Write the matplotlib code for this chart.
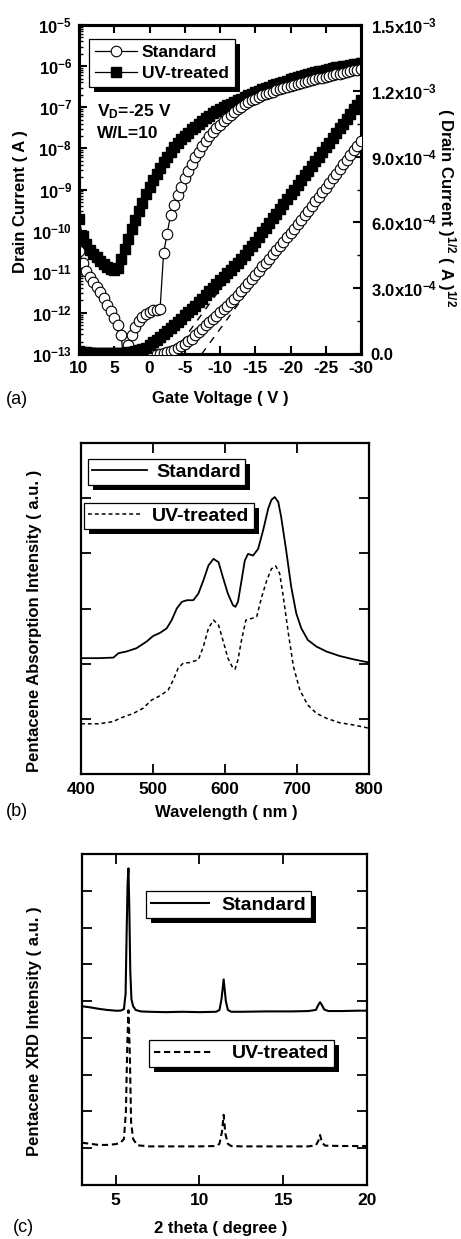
import numpy as np
import matplotlib
matplotlib.use('Agg')
import matplotlib.pyplot as plt
from matplotlib.ticker import MultipleLocator, FixedLocator, LogLocator, NullFormatter, FixedFormatter, LogFormatterMathtext
from matplotlib.patches import Rectangle
from matplotlib.transforms import IdentityTransform

plt.rcParams['font.family'] = ['Liberation Sans', 'DejaVu Sans']
plt.rcParams['font.weight'] = 'bold'
plt.rcParams['axes.labelweight'] = 'bold'
plt.rcParams['axes.unicode_minus'] = False
plt.rcParams['mathtext.fontset'] = 'custom'
plt.rcParams['mathtext.rm'] = 'Liberation Sans:bold'
plt.rcParams['mathtext.bf'] = 'Liberation Sans:bold'
plt.rcParams['mathtext.it'] = 'Liberation Sans:bold'

# ---------------- Panel (a) data: transfer curves ----------------
gate_voltage = np.arange(10, -30.5, -0.5)   # sweep 10 V -> -30 V, 0.5 V step (81 points)

# log10 of drain current (A)
std_log_id = [-10.50, -10.78, -10.98, -11.12, -11.24, -11.38, -11.50, -11.65, -11.80, -11.96,
              -12.13, -12.30, -12.55, -13.60, -12.78, -12.54, -12.34, -12.20, -12.10, -12.03,
              -11.98, -11.94, -11.92, -11.90, -10.55, -10.07, -9.62, -9.38, -9.14, -8.93,
              -8.73, -8.54, -8.37, -8.22, -8.08, -7.95, -7.83, -7.71, -7.60, -7.50,
              -7.42, -7.34, -7.26, -7.19, -7.12, -7.05, -6.99, -6.93, -6.87, -6.83,
              -6.79, -6.75, -6.71, -6.68, -6.65, -6.62, -6.59, -6.56, -6.53, -6.50,
              -6.48, -6.45, -6.43, -6.41, -6.39, -6.36, -6.34, -6.32, -6.30, -6.28,
              -6.26, -6.24, -6.22, -6.20, -6.18, -6.16, -6.14, -6.12, -6.10, -6.09,
              -6.07]
uv_log_id = [-9.72, -10.12, -10.32, -10.46, -10.56, -10.65, -10.74, -10.82, -10.88, -10.93,
             -10.96, -10.92, -10.70, -10.45, -10.21, -9.97, -9.74, -9.52, -9.32, -9.12,
             -8.93, -8.77, -8.62, -8.48, -8.33, -8.20, -8.08, -7.97, -7.87, -7.78,
             -7.70, -7.62, -7.54, -7.47, -7.40, -7.33, -7.27, -7.21, -7.15, -7.10,
             -7.05, -7.00, -6.95, -6.91, -6.87, -6.83, -6.79, -6.75, -6.71, -6.68,
             -6.64, -6.60, -6.56, -6.53, -6.50, -6.47, -6.44, -6.41, -6.38, -6.35,
             -6.32, -6.29, -6.27, -6.24, -6.22, -6.19, -6.17, -6.15, -6.13, -6.11,
             -6.09, -6.07, -6.05, -6.03, -6.02, -6.00, -5.99, -5.97, -5.96, -5.94,
             -5.93]

# (drain current)^1/2 in units of 1e-4 A^1/2
std_sqrt_id = [0.055, 0.040, 0.032, 0.028, 0.024, 0.020, 0.018, 0.015, 0.013, 0.010,
               0.009, 0.007, 0.005, 0.002, 0.004, 0.005, 0.007, 0.008, 0.009, 0.010,
               0.010, 0.011, 0.011, 0.011, 0.052, 0.090, 0.15, 0.20, 0.27, 0.35,
               0.46, 0.57, 0.70, 0.85, 1.00, 1.15, 1.30, 1.45, 1.60, 1.75,
               1.90, 2.05, 2.20, 2.36, 2.52, 2.69, 2.86, 3.04, 3.22, 3.41,
               3.60, 3.80, 4.00, 4.17, 4.35, 4.54, 4.73, 4.92, 5.12, 5.32,
               5.52, 5.72, 5.93, 6.13, 6.34, 6.54, 6.75, 6.96, 7.17, 7.38,
               7.59, 7.80, 8.01, 8.22, 8.43, 8.64, 8.85, 9.06, 9.28, 9.49,
               9.70]
uv_sqrt_id = [0.14, 0.09, 0.07, 0.06, 0.05, 0.05, 0.04, 0.04, 0.04, 0.03,
              0.03, 0.04, 0.05, 0.06, 0.08, 0.10, 0.13, 0.17, 0.22, 0.29,
              0.40, 0.53, 0.66, 0.79, 0.92, 1.05, 1.19, 1.33, 1.47, 1.61,
              1.76, 1.91, 2.06, 2.21, 2.37, 2.53, 2.69, 2.85, 3.02, 3.19,
              3.36, 3.52, 3.68, 3.84, 4.00, 4.17, 4.35, 4.53, 4.72, 4.92,
              5.12, 5.33, 5.54, 5.75, 5.97, 6.18, 6.40, 6.62, 6.85, 7.06,
              7.28, 7.49, 7.71, 7.92, 8.14, 8.35, 8.57, 8.78, 9.00, 9.21,
              9.43, 9.64, 9.86, 10.07, 10.29, 10.50, 10.72, 10.93, 11.15, 11.36,
              11.58]

# linear fits of sqrt(Id) (extrapolated to threshold)
std_fit_v = [-7.4, -30.0]
std_fit_sqrt = [0.0, 9.9]
uv_fit_v = [-3.3, -30.0]
uv_fit_sqrt = [0.0, 11.75]

right_ticks = [0.0, 3.0e-4, 6.0e-4, 9.0e-4, 1.2e-3, 1.5e-3]
right_tick_labels = ['0.0', r'$\mathdefault{3.0x10^{-4}}$', r'$\mathdefault{6.0x10^{-4}}$',
                     r'$\mathdefault{9.0x10^{-4}}$', r'$\mathdefault{1.2x10^{-3}}$',
                     r'$\mathdefault{1.5x10^{-3}}$']

# ---------------- Panel (b) data: absorption ----------------
wl_std = [400, 425, 445, 452, 463, 477, 491, 500, 510, 519, 526, 533, 540, 547, 556,
          563, 570, 577, 584, 591, 597, 604, 611, 614.5, 618, 623, 627.5, 632, 639, 646,
          653, 660, 664.5, 669, 674, 678, 685, 692, 699, 706, 715, 727, 741, 759, 778, 800]
abs_std = [2.10, 2.10, 2.11, 2.19, 2.22, 2.28, 2.40, 2.50, 2.56, 2.64, 2.79, 3.00, 3.12, 3.15, 3.15,
           3.27, 3.51, 3.78, 3.90, 3.84, 3.57, 3.27, 3.06, 3.03, 3.12, 3.51, 3.87, 3.99, 3.96, 4.08,
           4.42, 4.81, 4.97, 5.02, 4.93, 4.66, 4.05, 3.39, 2.91, 2.64, 2.43, 2.31, 2.22, 2.14, 2.08, 2.02]
wl_uv = [400, 425, 445, 454, 473, 486, 498, 510, 521, 528, 535, 542, 551, 563, 570,
         577, 584, 591, 597, 604, 611, 614, 618, 623, 629, 637, 644, 651, 658, 664.5,
         670.5, 676, 681, 688, 695, 704, 715, 727, 741, 759, 778, 800]
abs_uv = [0.91, 0.91, 0.95, 1.01, 1.10, 1.19, 1.34, 1.42, 1.52, 1.70, 1.92, 2.01, 2.02, 2.07, 2.31,
          2.64, 2.79, 2.70, 2.43, 2.10, 1.92, 1.90, 2.07, 2.43, 2.79, 2.82, 2.85, 3.21, 3.51, 3.72,
          3.77, 3.63, 3.21, 2.55, 1.95, 1.52, 1.25, 1.10, 1.01, 0.93, 0.89, 0.83]

# ---------------- Panel (c) data: XRD ----------------
tt_std = [3.0, 3.5, 4.0, 4.5, 5.0, 5.3, 5.5, 5.6, 5.66, 5.72, 5.77, 5.82, 5.88, 5.95, 6.05,
          6.2, 6.5, 7.0, 8.0, 9.0, 10.0, 11.0, 11.2, 11.32, 11.45, 11.58, 11.7, 11.9, 12.5, 14.0,
          15.5, 16.5, 16.95, 17.1, 17.2, 17.3, 17.45, 17.7, 18.5, 19.5, 20.0]
xrd_std = [4.86, 4.83, 4.79, 4.76, 4.74, 4.74, 4.78, 5.2, 6.8, 8.2, 8.61, 7.6, 5.8, 5.05, 4.86,
           4.76, 4.72, 4.71, 4.70, 4.71, 4.70, 4.71, 4.76, 5.05, 5.59, 5.0, 4.76, 4.71, 4.71, 4.72,
           4.72, 4.73, 4.76, 4.9, 4.97, 4.9, 4.77, 4.73, 4.73, 4.74, 4.74]
tt_uv = [3.0, 3.5, 4.0, 4.5, 5.0, 5.3, 5.5, 5.62, 5.7, 5.77, 5.85, 5.93, 6.05, 6.3, 7.0,
         8.0, 9.0, 10.0, 11.0, 11.2, 11.35, 11.45, 11.55, 11.7, 11.9, 12.5, 14.0, 15.5, 16.5, 16.95,
         17.1, 17.2, 17.32, 17.5, 18.5, 19.5, 20.0]
xrd_uv = [1.15, 1.12, 1.09, 1.09, 1.11, 1.15, 1.25, 2.0, 3.8, 4.75, 3.6, 1.7, 1.25, 1.08, 1.05,
          1.05, 1.05, 1.05, 1.06, 1.12, 1.45, 1.91, 1.4, 1.12, 1.06, 1.05, 1.05, 1.05, 1.05, 1.08,
          1.2, 1.36, 1.15, 1.07, 1.06, 1.06, 1.06]

W, H = 461.0, 1239.0
fig = plt.figure(figsize=(W / 100, H / 100), dpi=100)


def px_axes(left, top, right, bottom):
    return fig.add_axes([left / W, 1 - bottom / H, (right - left) / W, (bottom - top) / H])


def ftext(x, y, s, **kw):
    return fig.text(x / W, 1 - y / H, s, ha=kw.pop('ha', 'center'), va=kw.pop('va', 'center'), **kw)


legends = []

# =============== Panel (a) ===============
axA = px_axes(79, 25, 361, 354)
axA.set_yscale('log')
axA.set_xlim(10, -30)
axA.set_ylim(1e-13, 1e-5)
axA.plot(gate_voltage, 10 ** np.array(uv_log_id), color='black', lw=0.9, marker='s', ms=6.6,
         mfc='black', mec='black', zorder=3)
axA.plot(gate_voltage, 10 ** np.array(std_log_id), color='black', lw=0.9, marker='o', ms=7.6,
         mfc='white', mec='black', mew=0.8, zorder=4)
axA.xaxis.set_major_locator(MultipleLocator(5))
axA.yaxis.set_major_locator(LogLocator(base=10, numticks=20))
axA.yaxis.set_minor_locator(LogLocator(base=10, subs=np.arange(2, 10), numticks=20))
axA.yaxis.set_major_formatter(LogFormatterMathtext())
axA.yaxis.set_minor_formatter(NullFormatter())
axA.tick_params(axis='x', which='both', direction='in', top=True, bottom=True, length=6, width=1.5,
                labelsize=12.5, pad=5)
axA.tick_params(axis='y', which='major', direction='in', left=True, right=False, length=6, width=1.5,
                labelsize=12, pad=5)
axA.tick_params(axis='y', which='minor', direction='in', left=True, right=False, length=3, width=1.0)

axA2 = axA.twinx()
axA2.set_ylim(0, 1.5e-3)
axA2.plot(std_fit_v, np.array(std_fit_sqrt) * 1e-4, color='black', lw=1.0, ls=(0, (5, 5)), zorder=2)
axA2.plot(uv_fit_v, np.array(uv_fit_sqrt) * 1e-4, color='black', lw=1.0, ls=(0, (5, 5)), zorder=2)
axA2.plot(gate_voltage, np.array(std_sqrt_id) * 1e-4, color='black', lw=0.9, marker='o', ms=7.6,
          mfc='white', mec='black', mew=0.8, zorder=3)
axA2.plot(gate_voltage, np.array(uv_sqrt_id) * 1e-4, color='black', lw=0.9, marker='s', ms=6.6,
          mfc='black', mec='black', zorder=4)
axA2.yaxis.set_major_locator(FixedLocator(right_ticks))
axA2.yaxis.set_major_formatter(FixedFormatter(right_tick_labels))
axA2.yaxis.set_minor_locator(MultipleLocator(1.5e-4))
axA2.tick_params(axis='y', which='major', direction='in', length=6, width=1.5, labelsize=12, pad=7)
axA2.tick_params(axis='y', which='minor', direction='in', length=3, width=1.0)
for a in (axA, axA2):
    for sp in a.spines.values():
        sp.set_linewidth(2.2)

legA = axA2.legend(axA.get_lines()[::-1], ['Standard', 'UV-treated'], loc='upper left',
                   bbox_to_anchor=(0.035, 0.957), borderaxespad=0, fontsize=12.5, fancybox=False,
                   edgecolor='black', framealpha=1, borderpad=0.35, labelspacing=0.3,
                   handlelength=2.4, handletextpad=0.3, numpoints=1)
legA.get_frame().set_linewidth(0.9)
legends.append((axA2, legA))

ftext(97, 112, r'V$_\mathregular{D}$=-25 V', ha='left', fontsize=12.5)
ftext(97, 134, 'W/L=10', ha='left', fontsize=12.5)
ftext(21, 202, 'Drain Current ( A )', rotation=90, fontsize=12)
ftext(446, 208, r'( Drain Current )$^{1/2}$ ( A )$^{1/2}$', rotation=270, fontsize=12)
ftext(220, 399, 'Gate Voltage ( V )', fontsize=12)
ftext(17, 400, '(a)', fontsize=13, fontweight='normal')

# =============== Panel (b) ===============
axB = px_axes(81, 443, 369, 774)
axB.plot(wl_std, abs_std, color='black', lw=1.3, ls='-', label='Standard')
axB.plot(wl_uv, abs_uv, color='black', lw=1.1, ls=(0, (2.5, 2)), label='UV-treated')
axB.set_xlim(400, 800)
axB.set_ylim(0, 6)
axB.xaxis.set_major_locator(MultipleLocator(100))
axB.yaxis.set_major_locator(FixedLocator([1, 2, 3, 4, 5]))
axB.yaxis.set_major_formatter(NullFormatter())
axB.tick_params(axis='both', which='major', direction='in', top=True, right=True, length=7, width=1.3,
                labelsize=12.5, pad=6)
for sp in axB.spines.values():
    sp.set_linewidth(1.6)
linesB = axB.get_lines()
legB1 = axB.legend([linesB[0]], ['Standard'], loc='upper left', bbox_to_anchor=(0.024, 0.952),
                   borderaxespad=0, fontsize=14, fancybox=False, edgecolor='black', framealpha=1,
                   borderpad=0.22, handlelength=2.8, handletextpad=0.5)
legB1.get_frame().set_linewidth(0.9)
axB.add_artist(legB1)
legB2 = axB.legend([linesB[1]], ['UV-treated'], loc='upper left', bbox_to_anchor=(0.010, 0.819),
                   borderaxespad=0, fontsize=14, fancybox=False, edgecolor='black', framealpha=1,
                   borderpad=0.22, handlelength=2.8, handletextpad=0.5)
legB2.get_frame().set_linewidth(0.9)
legends.append((axB, legB1))
legends.append((axB, legB2))
ftext(35, 621, 'Pentacene Absorption Intensity ( a.u. )', rotation=90, fontsize=12)
ftext(226, 812, 'Wavelength ( nm )', fontsize=12)
ftext(17, 811, '(b)', fontsize=13, fontweight='normal')

# =============== Panel (c) ===============
axC = px_axes(82, 854, 367, 1185)
axC.plot(tt_std, xrd_std, color='black', lw=1.5, ls='-')
axC.plot(tt_uv, xrd_uv, color='black', lw=1.5, ls=(0, (3, 1.8)))
axC.set_xlim(3, 20)
axC.set_ylim(0, 9)
axC.xaxis.set_major_locator(FixedLocator([5, 10, 15, 20]))
axC.yaxis.set_major_locator(FixedLocator([1, 2, 3, 4, 5, 6, 7, 8]))
axC.yaxis.set_major_formatter(NullFormatter())
axC.tick_params(axis='both', which='major', direction='in', top=True, right=True, length=7, width=1.3,
                labelsize=12.5, pad=6)
for sp in axC.spines.values():
    sp.set_linewidth(1.6)
linesC = axC.get_lines()
legC1 = axC.legend([linesC[0]], ['Standard'], loc='upper left', bbox_to_anchor=(0.225, 0.888),
                   borderaxespad=0, fontsize=14, fancybox=False, edgecolor='black', framealpha=1,
                   borderpad=0.25, handlelength=3.0, handletextpad=0.6)
legC1.get_frame().set_linewidth(0.9)
axC.add_artist(legC1)
legC2 = axC.legend([linesC[1]], ['UV-treated'], loc='upper left', bbox_to_anchor=(0.235, 0.438),
                   borderaxespad=0, fontsize=14, fancybox=False, edgecolor='black', framealpha=1,
                   borderpad=0.25, handlelength=3.0, handletextpad=1.0)
legC2.get_frame().set_linewidth(0.9)
legends.append((axC, legC1))
legends.append((axC, legC2))
ftext(35, 1031, 'Pentacene XRD Intensity ( a.u. )', rotation=90, fontsize=12)
ftext(221, 1229, '2 theta ( degree )', fontsize=12)
ftext(23, 1228, '(c)', fontsize=13, fontweight='normal')

# solid black drop shadows behind the legend boxes
fig.canvas.draw()
renderer = fig.canvas.get_renderer()
for ax, leg in legends:
    bb = leg.get_frame().get_window_extent(renderer)
    shadow = Rectangle((bb.x0 + 5, bb.y0 - 5), bb.width, bb.height, transform=IdentityTransform(),
                       facecolor='black', edgecolor='none', zorder=leg.get_zorder() - 0.5, clip_on=False)
    ax.add_artist(shadow)

fig.savefig('out.png', dpi=100)
